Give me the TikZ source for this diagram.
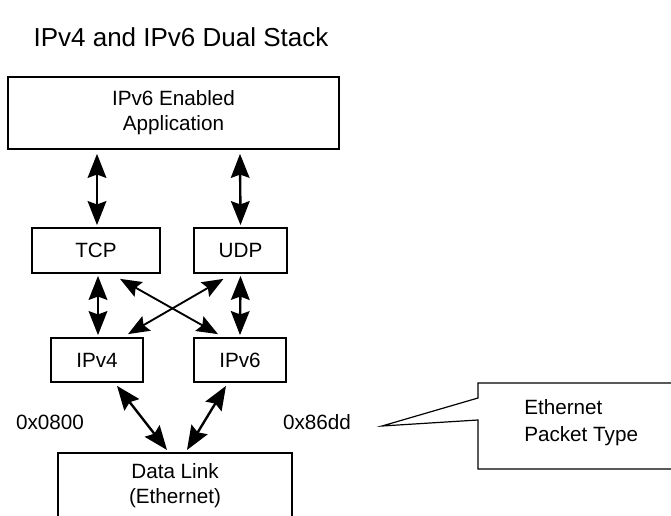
\documentclass[tikz,border=0pt]{standalone}
\usepackage{fontspec}
\setmainfont{Liberation Sans}
\usetikzlibrary{arrows.meta,calc}

\tikzset{
  layer/.style={draw, line width=1.3pt, inner sep=0pt, align=center,
    font=\fontsize{15.5}{18.75}\selectfont},
  plain/.style={inner sep=0pt, align=center, font=\fontsize{15.5}{18.75}\selectfont},
  link/.style={line width=1.8pt, {Stealth[length=18pt,width=14pt,inset=2.5pt]}-{Stealth[length=18pt,width=14pt,inset=2.5pt]}},
  xlink/.style={line width=1.4pt, {Stealth[length=16pt,width=12.5pt,inset=2.5pt]}-{Stealth[length=16pt,width=12.5pt,inset=2.5pt]}}
}

\begin{document}
\begin{tikzpicture}[x=0.75pt, y=-0.75pt]
\useasboundingbox (0,0) rectangle (671,516);
\clip (0,0) rectangle (671,516);

\node[inner sep=0pt, font=\fontsize{19.5}{23}\selectfont] (title) at (181,37) {IPv4 and IPv6 Dual Stack};

\node[layer, minimum width=248.25pt, minimum height=54pt] (app) at (173.5,113) {IPv6 Enabled\\Application};
\node[layer, minimum width=96pt, minimum height=33.75pt] (tcp) at (96,250.5) {TCP};
\node[layer, minimum width=69.75pt, minimum height=33.75pt] (udp) at (240.5,250.5) {UDP};
\node[layer, minimum width=69pt, minimum height=33pt] (ipv4) at (97,360) {IPv4};
\node[layer, minimum width=69pt, minimum height=33pt] (ipv6) at (240,360) {IPv6};
\node[layer, minimum width=175.5pt, minimum height=75pt, anchor=north] (dl) at (175,452) {};
\node[plain] (dltext) at (175,485.5) {Data Link\\(Ethernet)};

\node[plain] (v4type) at (50,422) {0x0800};
\node[plain] (v6type) at (317,422) {0x86dd};

% application to transport
\draw[link] ($(app.south -| tcp)+(1,4)$) -- ($(tcp.north)+(1,-2)$);
\draw[link] ($(app.south -| ipv6)+(0,4)$) -- ($(udp.north)+(0,-2)$);

% transport to network
\draw[link] ($(tcp.south)+(2,2)$) -- ($(ipv4.north)+(1,-2)$);
\draw[link] ($(udp.south)+(0,2)$) -- ($(ipv6.north)+(0,-2)$);
\draw[xlink] ($(tcp.south)+(24,5)$) -- ($(ipv6.north)+(-22,-3)$);
\draw[xlink] ($(udp.south)+(-17,5)$) -- ($(ipv4.north)+(31,-3)$);

% network to data link
\draw[link] ($(ipv4.south)+(20,3)$) -- ($(dl.north)+(-8,-2)$);
\draw[link] ($(ipv6.south)+(-14,3)$) -- ($(dl.north)+(12,-2)$);

% callout
\node[inner sep=0pt, anchor=west, align=left, font=\fontsize{15.5}{20}\selectfont] (note) at (524,422.5) {Ethernet\\Packet Type};
\coordinate (tip) at (382,426);
\draw[line width=0.9pt] (700,383) -- (478,383) -- (478,398) -- (tip) -- (478,420) -- (478,469) -- (700,469);
\end{tikzpicture}
\end{document}
